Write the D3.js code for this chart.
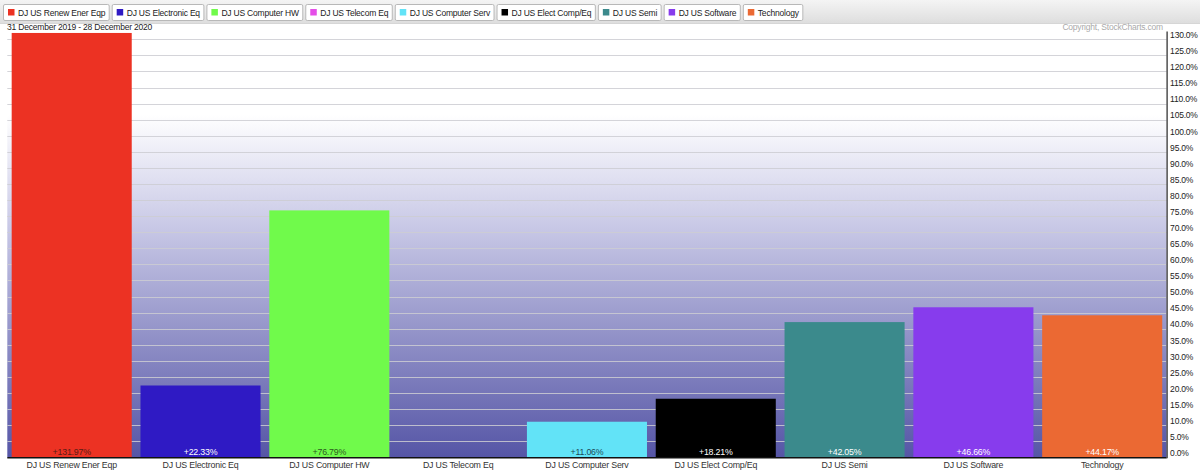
<!DOCTYPE html>
<html>
<head>
<meta charset="utf-8">
<script src="https://cdn.jsdelivr.net/npm/d3@7"></script>
<style>
  html, body { margin: 0; padding: 0; background: #fff; }
  svg { display: block; font-family: "Liberation Sans", Arial, sans-serif; }
  text { letter-spacing: -0.2px; }
</style>
</head>
<body>
<svg id="chart" width="1200" height="476"></svg>
<script>
// ---- data ----
const categories = ["DJ US Renew Ener Eqp", "DJ US Electronic Eq", "DJ US Computer HW", "DJ US Telecom Eq",
  "DJ US Computer Serv", "DJ US Elect Comp/Eq", "DJ US Semi", "DJ US Software", "Technology"];
const values = [131.97, 22.33, 76.79, null, 11.06, 18.21, 42.05, 46.66, 44.17];
const colors = ["#ec3223", "#2f1ac4", "#70fa4b", "#e54ee8", "#62e3f7", "#000000", "#3b8a8c", "#873ced", "#eb6933"];
const labelColors = ["#5a1c14", "#ffffff", "#2c5a1e", "#ffffff", "#1c4a58", "#ffffff", "#ffffff", "#ffffff", "#ffffff"];
const yTicks = d3.range(0, 131, 5);
const dateText = "31 December 2019 - 28 December 2020";
const copyrightText = "Copyright, StockCharts.com";

// ---- layout ----
const svg = d3.select("#chart");
const W = 1200, H = 476;
const plot = { left: 7.3, right: 1166.6, top: 39.3, bottom: 457.3 };

const x = d3.scaleBand().domain(categories).range([plot.left, plot.right])
  .paddingInner(0.068).paddingOuter(0.034);
const y = d3.scaleLinear().domain([0, 130]).range([plot.bottom, plot.top]);

const defs = svg.append("defs");
const bg = defs.append("linearGradient").attr("id", "bg").attr("x1", 0).attr("x2", 0).attr("y1", 0).attr("y2", 1);
bg.append("stop").attr("offset", "0").attr("stop-color", "#ffffff");
bg.append("stop").attr("offset", "0.18").attr("stop-color", "#ffffff");
bg.append("stop").attr("offset", "0.45").attr("stop-color", "#c8c8e6");
bg.append("stop").attr("offset", "1").attr("stop-color", "#5555a6");

const lg = defs.append("linearGradient").attr("id", "lg").attr("x1", 0).attr("x2", 0).attr("y1", 0).attr("y2", 1);
lg.append("stop").attr("offset", "0").attr("stop-color", "#f4f4f4");
lg.append("stop").attr("offset", "1").attr("stop-color", "#dedede");

// legend bar
svg.append("rect").attr("x", 0).attr("y", 0).attr("width", W).attr("height", 23).attr("fill", "url(#lg)");
svg.append("line").attr("x1", 0).attr("x2", W).attr("y1", 23.5).attr("y2", 23.5).attr("stroke", "#d6d6d6");

let lx = 3;
categories.forEach((c, i) => {
  const g = svg.append("g").attr("transform", `translate(${lx},4)`);
  const box = g.append("rect").attr("x", 0.5).attr("y", 0.5).attr("height", 16).attr("rx", 1.5)
    .attr("fill", "#fff").attr("stroke", "#b8b8b8");
  g.append("rect").attr("x", 5).attr("y", 5).attr("width", 6.5).attr("height", 6.5).attr("fill", colors[i]);
  const t = g.append("text").attr("x", 15).attr("y", 11.8).attr("font-size", "8.5px").attr("fill", "#222").text(c);
  const w = t.node().getComputedTextLength() + 18.5;
  box.attr("width", w);
  lx += w + 3;
});

// plot background
svg.append("rect").attr("x", plot.left).attr("y", plot.top).attr("width", plot.right - plot.left)
  .attr("height", plot.bottom - plot.top).attr("fill", "url(#bg)");

// gridlines
svg.append("g").selectAll("line").data(yTicks.filter(d => d > 0)).join("line")
  .attr("x1", plot.left).attr("x2", plot.right)
  .attr("y1", d => Math.round(y(d)) + 0.5).attr("y2", d => Math.round(y(d)) + 0.5)
  .attr("stroke", "rgba(205,205,210,0.85)").attr("stroke-width", 1.2);

// date and copyright
svg.append("text").attr("x", 7).attr("y", 30).attr("font-size", "8.5px").attr("fill", "#222").text(dateText);
svg.append("text").attr("x", 1163).attr("y", 30).attr("text-anchor", "end").attr("font-size", "8.5px")
  .attr("fill", "#aaa").text(copyrightText);

// bars
const data = categories.map((c, i) => ({ c, v: values[i], color: colors[i], lc: labelColors[i] })).filter(d => d.v != null);
svg.append("g").selectAll("rect").data(data).join("rect")
  .attr("x", d => x(d.c)).attr("width", x.bandwidth())
  .attr("y", d => y(d.v)).attr("height", d => y(0) - y(d.v))
  .attr("fill", d => d.color);

svg.append("g").selectAll("text").data(data).join("text")
  .attr("x", d => x(d.c) + x.bandwidth() / 2).attr("y", plot.bottom - 2)
  .attr("text-anchor", "middle").attr("font-size", "8.8px").attr("fill", d => d.lc)
  .text(d => (d.v >= 0 ? "+" : "") + d.v.toFixed(2) + "%");

// baseline
svg.append("line").attr("x1", plot.left).attr("x2", plot.right).attr("y1", plot.bottom + 0.5).attr("y2", plot.bottom + 0.5)
  .attr("stroke", "#111").attr("stroke-width", 1.5);

// right axis
svg.append("line").attr("x1", plot.right + 0.5).attr("x2", plot.right + 0.5).attr("y1", 31.5).attr("y2", plot.bottom + 1)
  .attr("stroke", "#333").attr("stroke-width", 1.3);
const axis = d3.axisRight(y).tickValues(yTicks).tickSize(0).tickPadding(3).tickFormat(d => d.toFixed(1) + "%");
const ag = svg.append("g").attr("transform", `translate(${plot.right + 0.5},0)`).call(axis);
ag.select(".domain").remove();
ag.selectAll("text").attr("font-size", "8.5px").attr("fill", "#222")
  .attr("font-family", "'Liberation Sans', Arial, sans-serif").attr("dy", "-0.2em").attr("x", 3);

// category labels
svg.append("g").selectAll("text").data(categories).join("text")
  .attr("x", d => x(d) + x.bandwidth() / 2).attr("y", 467.5)
  .attr("text-anchor", "middle").attr("font-size", "8.8px").attr("fill", "#333").text(d => d);
</script>
</body>
</html>
